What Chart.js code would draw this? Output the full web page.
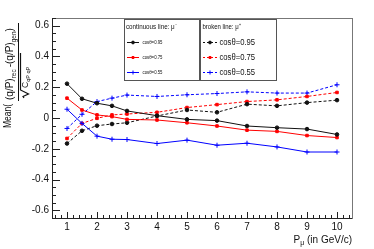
<!DOCTYPE html>
<html>
<head>
<meta charset="utf-8">
<script src="https://cdn.jsdelivr.net/npm/chart.js@4.4.1/dist/chart.umd.min.js"></script>
<style>
html, body { margin: 0; padding: 0; background: #fff; }
#wrap { width: 374px; height: 249px; }
</style>
</head>
<body>
<div id="wrap"><canvas id="chart" width="374" height="249"></canvas></div>
<script>

// momentum points (GeV/c)
const pValues = [1, 1.5, 2, 2.5, 3, 4, 5, 6, 7, 8, 9, 10];

// continuous line : mu-
const muMinus095 = [0.223, 0.125, 0.096, 0.079, 0.046, 0.015, -0.009, -0.017, -0.052, -0.063, -0.072, -0.107];
const muMinus075 = [0.129, 0.052, 0.020, 0.009, -0.009, -0.013, -0.031, -0.052, -0.079, -0.087, -0.114, -0.127];
const muMinus055 = [0.057, -0.035, -0.118, -0.138, -0.140, -0.166, -0.144, -0.177, -0.164, -0.188, -0.221, -0.221];

// broken line : mu+
const muPlus095 = [-0.166, -0.083, -0.050, -0.039, -0.031, 0.013, 0.052, 0.037, 0.090, 0.079, 0.100, 0.116];
const muPlus075 = [-0.133, -0.035, -0.002, 0.020, 0.026, 0.037, 0.068, 0.087, 0.107, 0.118, 0.140, 0.166];
const muPlus055 = [-0.068, 0.024, 0.107, 0.129, 0.149, 0.140, 0.151, 0.159, 0.170, 0.162, 0.162, 0.216];

const cosLabels = ['cos\u03b8=0.95', 'cos\u03b8=0.75', 'cos\u03b8=0.55'];
const xTickValues = [1, 2, 3, 4, 5, 6, 7, 8, 9, 10];
const yTickValues = [-0.6, -0.4, -0.2, 0, 0.2, 0.4, 0.6];

const FONT = '"Liberation Sans", Arial, Helvetica, sans-serif';
const colors = ['#111111', '#ff0000', '#0000ff'];
const markers = ['circle', 'rect', 'cross'];

function toPoints(values) {
    return values.map((v, i) => ({ x: pValues[i], y: v }));
}

function makeDataset(values, idx, dashed) {
    return {
        data: toPoints(values),
        showLine: true,
        borderColor: colors[idx],
        backgroundColor: colors[idx],
        borderWidth: 1,
        borderDash: dashed ? [3, 2] : [],
        pointStyle: markers[idx],
        pointRadius: idx === 2 ? 2.5 : 1.8,
        pointBorderWidth: 1,
        tension: 0
    };
}

// small helper : text squeezed a bit horizontally, like the original
function squeezed(ctx, txt, x, y, size, sx) {
    ctx.save();
    ctx.font = size + 'px ' + FONT;
    ctx.translate(x, y);
    ctx.scale(sx, 1);
    ctx.fillText(txt, 0, 0);
    const w = ctx.measureText(txt).width * sx;
    ctx.restore();
    return w;
}

const decorations = {
    id: 'decorations',
    afterDatasetsDraw(chart) {
        const ctx = chart.ctx;
        const a = chart.chartArea;
        const xs = chart.scales.x;
        const ys = chart.scales.y;

        // frame
        ctx.save();
        ctx.lineWidth = 1;
        ctx.strokeStyle = '#777';
        ctx.strokeRect(a.left + 0.5, a.top + 0.5, a.right - a.left, a.bottom - a.top);
        ctx.strokeStyle = '#222';
        ctx.beginPath();
        ctx.moveTo(a.left + 0.5, a.top);
        ctx.lineTo(a.left + 0.5, a.bottom + 0.5);
        ctx.lineTo(a.right, a.bottom + 0.5);
        ctx.stroke();

        // ticks pointing inward
        ctx.beginPath();
        for (let k = -13; k <= 13; k++) {
            const v = k * 0.05;
            const py = Math.round(ys.getPixelForValue(v)) + 0.5;
            const len = (k % 4 === 0) ? 8 : 4;
            ctx.moveTo(a.left, py);
            ctx.lineTo(a.left + len, py);
        }
        for (let k = 3; k <= 52; k++) {
            const v = k * 0.2;
            const px = Math.round(xs.getPixelForValue(v)) + 0.5;
            const len = (k % 5 === 0) ? 6 : 3;
            ctx.moveTo(px, a.bottom);
            ctx.lineTo(px, a.bottom - len);
        }
        ctx.stroke();
        ctx.restore();

        // legends
        ctx.save();
        ctx.fillStyle = '#fff';
        ctx.strokeStyle = '#555';
        ctx.lineWidth = 1;
        ctx.fillRect(124, 19, 75, 61);
        ctx.strokeRect(124.5, 19.5, 75, 61);
        ctx.fillRect(200, 19, 76, 61);
        ctx.strokeRect(200.5, 19.5, 76, 61);
        ctx.fillStyle = '#111';
        ctx.textBaseline = 'middle';
        squeezed(ctx, 'continuous line: \u03bc\u207b', 126, 27, 7.8, 0.8);
        squeezed(ctx, 'broken line: \u03bc\u207a', 202.5, 27, 7.5, 0.8);
        const rows = [42, 57, 72];
        for (let i = 0; i < 3; i++) {
            const y = rows[i] + 0.5;
            ctx.strokeStyle = colors[i];
            ctx.fillStyle = colors[i];
            ctx.setLineDash([]);
            ctx.beginPath();
            ctx.moveTo(127, y);
            ctx.lineTo(139, y);
            ctx.stroke();
            Chart.helpers.drawPoint(ctx, { pointStyle: markers[i], radius: i === 2 ? 2 : 1.4, borderWidth: 1 }, 133, y);
            ctx.setLineDash([2, 2]);
            ctx.beginPath();
            ctx.moveTo(203, y);
            ctx.lineTo(217, y);
            ctx.stroke();
            ctx.setLineDash([]);
            Chart.helpers.drawPoint(ctx, { pointStyle: markers[i], radius: i === 2 ? 2 : 1.4, borderWidth: 1 }, 210, y);
            ctx.fillStyle = '#111';
            squeezed(ctx, cosLabels[i], 142.5, y, 5.4, 0.8);
            squeezed(ctx, cosLabels[i], 219.5, y, 9.6, 0.8);
        }
        ctx.restore();

        // x axis title
        ctx.save();
        ctx.fillStyle = '#111';
        ctx.textBaseline = 'alphabetic';
        const rest = ' (in GeV/c)';
        ctx.font = '7px ' + FONT;
        const wMu = ctx.measureText('\u03bc').width;
        ctx.font = '10px ' + FONT;
        const wP = ctx.measureText('P').width;
        const wRest = ctx.measureText(rest).width;
        let x0 = 352 - wRest - wMu - wP;
        ctx.fillText('P', x0, 243);
        ctx.font = '7px ' + FONT;
        ctx.fillText('\u03bc', x0 + wP, 245);
        ctx.font = '10px ' + FONT;
        ctx.fillText(rest, x0 + wP + wMu, 243);
        ctx.restore();

        // y axis title, rotated: (u, v) -> screen (v, -u)
        ctx.save();
        ctx.fillStyle = '#111';
        ctx.strokeStyle = '#111';
        ctx.textBaseline = 'alphabetic';
        ctx.rotate(-Math.PI / 2);
        squeezed(ctx, 'Mean(', -128, 11, 10, 0.85);
        let u = -100;
        u += squeezed(ctx, '(q/P)', u, 13, 10, 1);
        u += squeezed(ctx, 'rec', u, 16, 6.5, 1) + 2;
        u += squeezed(ctx, '-(q/P)', u, 13, 10, 1);
        u += squeezed(ctx, 'gen', u, 16, 6.5, 1);
        squeezed(ctx, ')', u, 13, 10, 1);
        ctx.lineWidth = 1;
        ctx.beginPath();
        ctx.moveTo(-101, 18.5);
        ctx.lineTo(-23, 18.5);
        ctx.stroke();
        // square root sign
        ctx.lineWidth = 1.2;
        ctx.beginPath();
        ctx.moveTo(-98, 24);
        ctx.lineTo(-96.5, 23);
        ctx.lineTo(-94, 28.5);
        ctx.lineTo(-90, 20.5);
        ctx.lineTo(-53, 20.5);
        ctx.stroke();
        const wc = squeezed(ctx, 'C', -88, 28, 8.5, 1);
        squeezed(ctx, 'qP qP', -88 + wc, 30, 5.5, 1);
        ctx.restore();
    }
};

const ctx = document.getElementById('chart').getContext('2d');
new Chart(ctx, {
    type: 'scatter',
    data: {
        datasets: [
            makeDataset(muMinus095, 0, false),
            makeDataset(muMinus075, 1, false),
            makeDataset(muMinus055, 2, false),
            makeDataset(muPlus095, 0, true),
            makeDataset(muPlus075, 1, true),
            makeDataset(muPlus055, 2, true)
        ]
    },
    options: {
        responsive: false,
        animation: false,
        layout: { padding: { top: 18, right: 22, left: 0, bottom: 0 } },
        plugins: { legend: { display: false }, tooltip: { enabled: false } },
        scales: {
            x: {
                type: 'linear',
                min: 0.5,
                max: 10.5,
                grid: { display: false, drawTicks: false },
                border: { display: false },
                afterBuildTicks: scale => { scale.ticks = xTickValues.map(v => ({ value: v })); },
                afterFit: scale => { scale.height = 31; },
                ticks: {
                    autoSkip: false,
                    maxRotation: 0,
                    padding: 3,
                    color: '#111',
                    font: { family: FONT, size: 10 },
                    callback: v => String(v)
                }
            },
            y: {
                min: -0.65,
                max: 0.65,
                grid: { display: false, drawTicks: false },
                border: { display: false },
                afterBuildTicks: scale => { scale.ticks = yTickValues.map(v => ({ value: v })); },
                afterFit: scale => { scale.width = 52; },
                ticks: {
                    autoSkip: false,
                    padding: 3,
                    color: '#111',
                    font: { family: FONT, size: 10 },
                    callback: v => (Math.abs(v) < 1e-9 ? '0' : v.toFixed(1))
                }
            }
        }
    },
    plugins: [decorations]
});
</script>
</body>
</html>
